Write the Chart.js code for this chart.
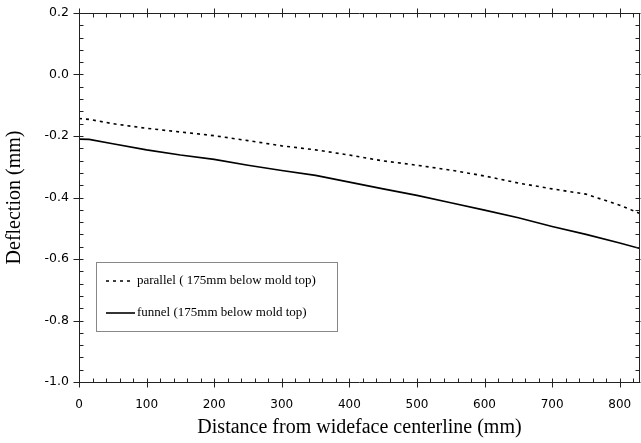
<!DOCTYPE html>
<html>
<head>
<meta charset="utf-8">
<script src="https://cdn.jsdelivr.net/npm/chart.js@4/dist/chart.umd.min.js"></script>
<style>
html,body{margin:0;padding:0;background:#fff;}
canvas{display:block;}
</style>
</head>
<body>
<canvas id="c" width="641" height="443"></canvas>
<script>
// Data
const distances = [0, 15, 50, 100, 150, 200, 250, 300, 350, 400, 450, 500, 550, 600, 650, 700, 750, 800, 830];
const parallelValues = [-0.143, -0.146, -0.160, -0.175, -0.187, -0.199, -0.215, -0.232, -0.245, -0.262, -0.281, -0.295, -0.311, -0.330, -0.353, -0.372, -0.389, -0.425, -0.452];
const funnelValues = [-0.210, -0.211, -0.225, -0.245, -0.262, -0.276, -0.295, -0.312, -0.328, -0.350, -0.372, -0.393, -0.417, -0.441, -0.466, -0.494, -0.520, -0.548, -0.566];
const seriesLabels = ['parallel ( 175mm below mold top)', 'funnel (175mm below mold top)'];
const xTitle = 'Distance from wideface centerline (mm)';
const yTitle = 'Deflection (mm)';

const toPoints = (vals) => distances.map((d, i) => ({x: d, y: vals[i]}));

const frameTicks = {
  id: 'frameTicks',
  afterDraw(chart) {
    const {ctx, chartArea: a, scales: {x, y}} = chart;
    const L = Math.round(a.left) + 0.5, R = Math.round(a.right) - 0.5;
    const T = Math.round(a.top) + 0.5, B = Math.round(a.bottom) + 0.5;
    ctx.save();
    ctx.strokeStyle = '#222';
    ctx.lineWidth = 1;
    ctx.beginPath();
    ctx.moveTo(L, T); ctx.lineTo(R, T); ctx.lineTo(R, B); ctx.lineTo(L, B); ctx.closePath();
    // x ticks
    for (let i = 0; i * 20 <= x.max; i++) {
      const px = Math.round(x.getPixelForValue(i * 20)) + 0.5;
      const major = i % 5 === 0;
      if (major) {
        ctx.moveTo(px, B - 4); ctx.lineTo(px, B + 5);
        ctx.moveTo(px, T - 5); ctx.lineTo(px, T + 4);
      } else {
        ctx.moveTo(px, B); ctx.lineTo(px, B - 4);
        ctx.moveTo(px, T); ctx.lineTo(px, T + 4);
      }
    }
    // y ticks
    for (let i = 0; i <= 30; i++) {
      const v = y.min + i * 0.04;
      const py = Math.round(y.getPixelForValue(v)) + 0.5;
      const major = i % 5 === 0;
      if (major) {
        ctx.moveTo(L - 6, py); ctx.lineTo(L + 4, py);
        ctx.moveTo(R - 4, py); ctx.lineTo(R + 1, py);
      } else {
        ctx.moveTo(L, py); ctx.lineTo(L + 4, py);
        ctx.moveTo(R, py); ctx.lineTo(R - 4, py);
      }
    }
    ctx.stroke();

    // legend box
    const bx = 96.5, by = 262.5, bw = 241, bh = 69;
    ctx.fillStyle = '#fff';
    ctx.fillRect(bx, by, bw, bh);
    ctx.strokeStyle = '#888';
    ctx.strokeRect(bx, by, bw, bh);
    const rows = [281, 313];
    chart.data.datasets.forEach((ds, i) => {
      ctx.strokeStyle = ds.borderColor;
      ctx.lineWidth = ds.borderWidth;
      ctx.setLineDash(ds.borderDash || []);
      ctx.beginPath();
      ctx.moveTo(106, rows[i]); ctx.lineTo(i === 0 ? 132 : 135, rows[i]);
      ctx.stroke();
      ctx.setLineDash([]);
      ctx.fillStyle = '#000';
      ctx.font = '13px "Liberation Serif", "Times New Roman", serif';
      ctx.textBaseline = 'middle';
      ctx.textAlign = 'left';
      ctx.fillText(ds.label, 137, rows[i]);
    });
    ctx.restore();
  }
};

new Chart(document.getElementById('c'), {
  type: 'line',
  data: {
    datasets: [
      {label: seriesLabels[0], data: toPoints(parallelValues), borderColor: '#000', borderWidth: 1.6, borderDash: [3, 4], pointRadius: 0, fill: false, tension: 0},
      {label: seriesLabels[1], data: toPoints(funnelValues), borderColor: '#000', borderWidth: 1.6, pointRadius: 0, fill: false, tension: 0}
    ]
  },
  options: {
    responsive: false,
    animation: false,
    layout: {padding: {top: 13, right: 1, left: 0, bottom: 0}},
    plugins: {legend: {display: false}, tooltip: {enabled: false}},
    scales: {
      x: {
        type: 'linear', min: 0, max: 830,
        grid: {display: false, drawTicks: false},
        border: {display: false},
        ticks: {stepSize: 100, includeBounds: false, padding: 16, color: '#000', font: {family: '"DejaVu Sans", sans-serif', size: 12}, maxRotation: 0},
        title: {display: true, text: xTitle, color: '#000', font: {family: '"Liberation Serif", "Times New Roman", serif', size: 20}, padding: {top: 0, bottom: 3}},
        afterFit(s) { s.height = 61; s.paddingLeft = 0; s.paddingRight = 0; }
      },
      y: {
        type: 'linear', min: -1.0, max: 0.2,
        grid: {display: false, drawTicks: false},
        border: {display: false},
        ticks: {stepSize: 0.2, padding: 10, color: '#000', font: {family: '"DejaVu Sans", sans-serif', size: 12.5},
          callback: (v) => (Math.abs(v) < 1e-9 ? 0 : v).toFixed(1)},
        title: {display: true, text: yTitle, color: '#000', font: {family: '"Liberation Serif", "Times New Roman", serif', size: 20}, padding: {top: 3, bottom: 0}},
        afterFit(s) { s.width = 79; s.paddingTop = 0; s.paddingBottom = 0; }
      }
    }
  },
  plugins: [frameTicks]
});
</script>
</body>
</html>
